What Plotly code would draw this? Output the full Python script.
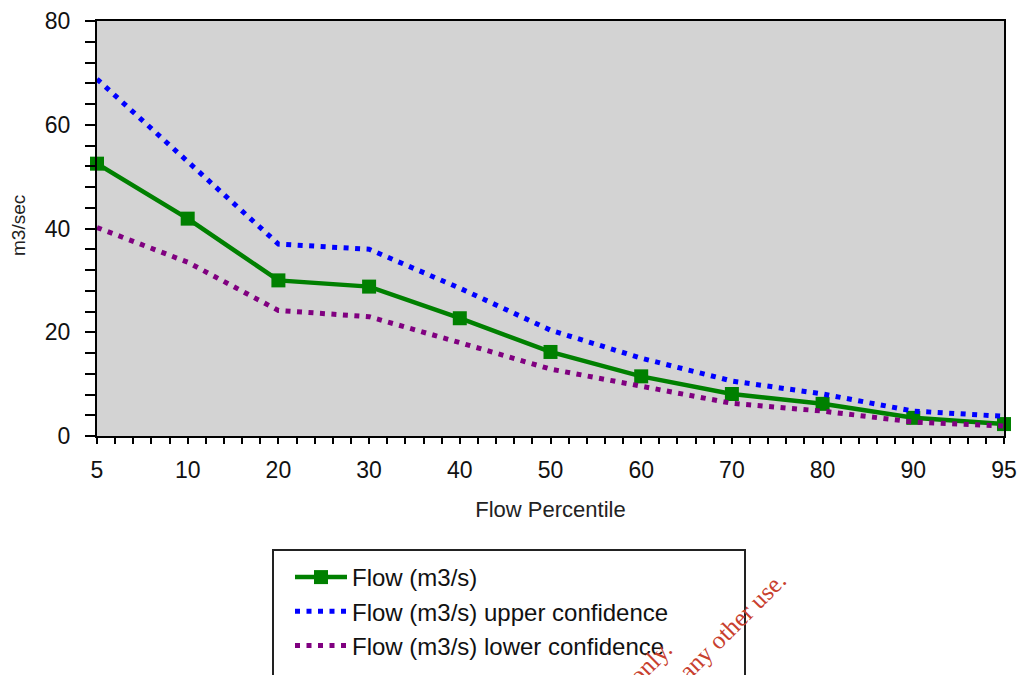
import plotly.graph_objects as go

categories = ["5", "10", "20", "30", "40", "50", "60", "70", "80", "90", "95"]
flow = [52.5, 41.9, 30.0, 28.8, 22.7, 16.2, 11.5, 8.1, 6.2, 3.5, 2.3]
upper = [68.8, 53.0, 37.0, 36.0, 28.5, 20.4, 15.0, 10.6, 8.1, 4.8, 3.8]
lower = [40.2, 33.5, 24.2, 23.0, 18.0, 12.9, 9.6, 6.3, 4.8, 2.7, 1.9]

names = ["Flow (m3/s)", "Flow (m3/s) upper confidence", "Flow (m3/s) lower confidence"]

idx = list(range(len(categories)))

# plot-area pixel geometry
FW, FH = 1023, 675
L, R, T, B = 97, 1004, 21, 436
W, H = R - L, B - T


def px(x):
    return (x - L) / W


def py(y):
    return (B - y) / H


fig = go.Figure()
fig.add_trace(go.Scatter(
    x=idx, y=flow, name=names[0], mode="lines+markers",
    line=dict(color="#008000", width=4.5),
    marker=dict(symbol="square", size=14, color="#008000"),
    cliponaxis=False,
))
fig.add_trace(go.Scatter(
    x=idx, y=upper, name=names[1], mode="lines",
    line=dict(color="#0000FF", width=5, dash="5px,6.5px"),
    cliponaxis=False,
))
fig.add_trace(go.Scatter(
    x=idx, y=lower, name=names[2], mode="lines",
    line=dict(color="#800080", width=5, dash="5px,6.5px"),
    cliponaxis=False,
))

axis_font = dict(family="Liberation Sans, Arial, sans-serif", size=23, color="#111111")

fig.update_layout(
    width=FW, height=FH,
    margin=dict(l=L, r=FW - R, t=T, b=FH - B, autoexpand=False),
    paper_bgcolor="white",
    plot_bgcolor="#d3d3d3",
    font=dict(family="Liberation Sans, Arial, sans-serif", color="#111111"),
    xaxis=dict(
        range=[0, 10], tickmode="array", tickvals=idx, ticktext=categories,
        showgrid=False, zeroline=False, showline=True, linecolor="black", linewidth=2,
        mirror=True, ticks="outside", ticklen=6, tickwidth=1.5, tickcolor="black",
        tickfont=axis_font, ticklabelstandoff=6,
        minor=dict(tickmode="linear", tick0=0, dtick=0.2, ticks="outside", ticklen=6,
                   tickwidth=1.5, tickcolor="black", showgrid=False),
        title=dict(text="Flow Percentile", font=dict(size=22, color="#222222"), standoff=20),
    ),
    yaxis=dict(
        range=[0, 80], tickmode="linear", tick0=0, dtick=20,
        showgrid=False, zeroline=False, showline=True, linecolor="black", linewidth=2,
        mirror=True, ticks="outside", ticklen=10, tickwidth=1.5, tickcolor="black",
        tickfont=axis_font, ticklabelstandoff=10,
        minor=dict(tickmode="linear", tick0=0, dtick=4, ticks="outside", ticklen=10,
                   tickwidth=1.5, tickcolor="black", showgrid=False),
    ),
    legend=dict(
        xref="container", yref="container",
        x=290 / FW, y=1 - 555 / FH, xanchor="left", yanchor="top",
        bgcolor="rgba(0,0,0,0)", borderwidth=0,
        font=dict(size=24, color="#111111"),
        itemwidth=52, tracegroupgap=0,
    ),
    showlegend=True,
)

# y-axis title
fig.add_annotation(
    text="m3/sec", xref="paper", yref="paper",
    x=px(18), y=py(226), xanchor="center", yanchor="middle",
    textangle=-90, showarrow=False, font=dict(size=19, color="#222222"),
)

fig.add_shape(
    type="rect", xref="paper", yref="paper",
    x0=px(273), x1=px(745), y0=py(550), y1=py(720),
    line=dict(color="#222222", width=2), fillcolor="rgba(0,0,0,0)", layer="above",
)

wm_font = dict(family="Liberation Serif, DejaVu Serif, serif", size=25, color="#c8402e")
fig.add_annotation(
    text="for any other use.", xref="paper", yref="paper",
    x=px(719), y=py(638), xanchor="center", yanchor="middle",
    textangle=-45, showarrow=False, font=wm_font,
)
fig.add_annotation(
    text="For reference only.", xref="paper", yref="paper",
    x=px(600), y=py(712), xanchor="center", yanchor="middle",
    textangle=-45, showarrow=False, font=wm_font,
)

fig.write_html(
    "out.html",
    config={"displayModeBar": False},
    post_script="document.body.style.margin='0';document.body.style.overflow='hidden';",
)
